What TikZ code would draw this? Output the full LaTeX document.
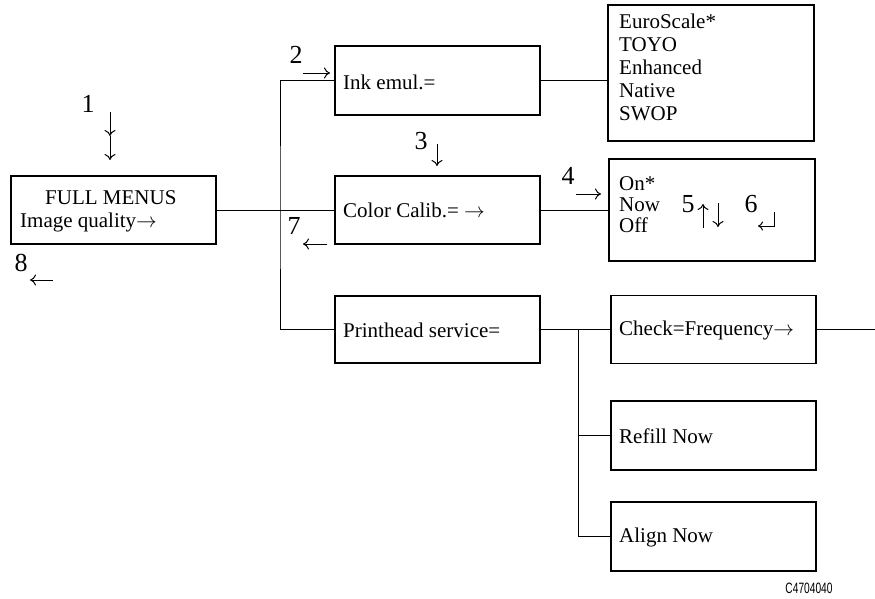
\documentclass[tikz,border=0pt]{standalone}
\usepackage{fontspec}
\usepackage{graphicx}
\usetikzlibrary{arrows.meta}
\setmainfont{Liberation Serif}
\newfontfamily\codefont{Liberation Sans}
\begin{document}
\begin{tikzpicture}[x=1pt,y=-1pt,
  box/.style={draw, line width=1.2pt, inner sep=0pt},
  conn/.style={line width=1pt},
  lbl/.style={inner sep=0pt, font=\fontsize{26}{26}\selectfont},
  marr/.style={line width=1pt, -{To[length=6pt,width=11pt]}},
  txt/.style={inner sep=0pt, anchor=west, align=left, font=\fontsize{21}{23}\selectfont}]
\useasboundingbox (0,0) rectangle (875,598);
% boxes
\node[box, minimum width=205pt, minimum height=68pt] (fm) at (113.5,210) {};
\node[box, minimum width=205pt, minimum height=69pt] (ink) at (437.5,80.5) {};
\node[box, minimum width=206pt, minimum height=136pt] (euro) at (711,73) {};
\node[box, minimum width=205pt, minimum height=68pt] (cc) at (437.5,210) {};
\node[box, minimum width=206pt, minimum height=102pt] (on) at (712,210) {};
\node[box, minimum width=205pt, minimum height=67pt] (ph) at (437.5,329.5) {};
\node[box, minimum width=205pt, minimum height=68pt] (chk) at (713.5,329.5) {};
\node[box, minimum width=205pt, minimum height=69pt] (ref) at (713.5,435.5) {};
\node[box, minimum width=205pt, minimum height=69pt] (aln) at (713.5,536.5) {};
% texts
\node[txt, anchor=north west] (fmt) at (20,190) {\hspace*{25pt}FULL MENUS\\Image quality$\rightarrow$};
\node[txt] (inkt) at (343,82) {Ink emul.=};
\node[txt, anchor=north west] (eurot) at (619,14) {EuroScale*\\TOYO\\Enhanced\\Native\\SWOP};
\node[txt] (cct) at (343,210) {Color Calib.= $\rightarrow$};
\node[txt, anchor=north west, font=\fontsize{21}{21}\selectfont] (ont) at (619,176) {On*\\Now\\Off};
\node[txt] (pht) at (343,330) {Printhead service=};
\node[txt] (chkt) at (619,330) {Check=Frequency$\rightarrow$};
\node[txt] (reft) at (619,436) {Refill Now};
\node[txt] (alnt) at (619,537) {Align Now};
% connectors
\coordinate (j) at (280,210);
\coordinate (k) at (578,329.5);
\coordinate (rend) at (875,329.5);
\draw[conn] (fm.east) -- (cc.west);
\draw[conn] (ink.west) -| (j) |- (ph.west);
\draw[conn] (ink.east) -- (ink.east -| euro.west);
\draw[conn] (cc.east) -- (on.west);
\draw[conn] (ph.east) -- (chk.west);
\draw[conn] (k) |- (ref.west);
\draw[conn] (k) |- (aln.west);
\draw[conn] (chk.east) -- (rend);
% step labels
\node[lbl] (n1) at (88,104) {1};
\draw[marr] (110,112) -- (110,136);
\draw[marr] (110,136) -- (110,160);
\node[lbl] (n2) at (296,55) {2};
\draw[marr] (303,73) -- (330,73);
\node[lbl] (n3) at (421,141) {3};
\draw[marr] (437,144) -- (437,166);
\node[lbl] (n4) at (568,176) {4};
\draw[marr] (576,194) -- (601,194);
\node[lbl] (n5) at (688,204) {5};
\draw[marr] (703,228) -- (703,204);
\draw[marr] (718,203) -- (718,227);
\node[lbl] (n6) at (751,204) {6};
\draw[line width=1pt, -{To[length=5pt,width=9pt]}] (774,212) -- (774,226) -- (758,226);
\node[lbl] (n7) at (294,226) {7};
\draw[marr] (327,244) -- (303,244);
\node[lbl] (n8) at (21,263) {8};
\draw[marr] (53,280) -- (30,280);
\node[inner sep=0pt, font=\codefont\fontsize{15}{15}\selectfont] (code) at (809,588) {\scalebox{0.68}[1]{C4704040}};
\end{tikzpicture}
\end{document}
